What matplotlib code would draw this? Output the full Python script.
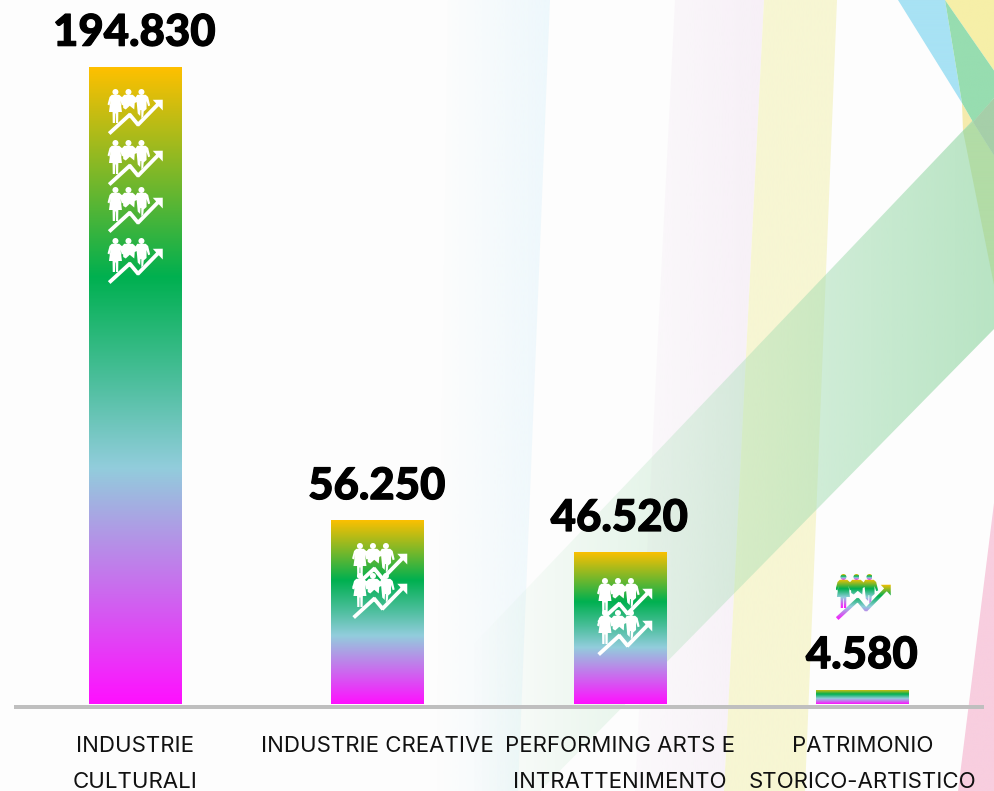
import numpy as np
import matplotlib
matplotlib.use("Agg")
import matplotlib.pyplot as plt
import matplotlib.patheffects as pe
from matplotlib.colors import LinearSegmentedColormap, to_rgb
from matplotlib.patches import PathPatch, Polygon
from matplotlib.path import Path
from matplotlib.ticker import NullLocator
from matplotlib.transforms import Affine2D

# Data
categories = ["INDUSTRIE\nCULTURALI", "INDUSTRIE CREATIVE",
              "PERFORMING ARTS E\nINTRATTENIMENTO", "PATRIMONIO\nSTORICO-ARTISTICO"]
values = [194830, 56250, 46520, 4580]
value_labels = ["194.830", "56.250", "46.520", "4.580"]

# Icon placement on the canvas: horizontal nudge from the bar centre and top edges
ICON_DX = [0, 2, 4.5, 0.5]
ICON_TOPS = [[89, 140, 187, 238], [543, 573], [578, 610], [574]]

W, H = 995, 791
plt.rcParams["font.family"] = ["Inter", "DejaVu Sans"]

rainbow = LinearSegmentedColormap.from_list(
    "rainbow_bar",
    [(0.0, "#FFC000"), (0.33, "#00B050"), (0.50, "#4FBF9F"),
     (0.63, "#92CDDC"), (1.0, "#FF10FF")],
)
ramp = np.linspace(0, 1, 256).reshape(-1, 1)

fig = plt.figure(figsize=(W / 100, H / 100), dpi=100, facecolor="#FDFDFD")


def px_axes(zorder):
    a = fig.add_axes([0, 0, 1, 1], zorder=zorder)
    a.set_xlim(0, W)
    a.set_ylim(H, 0)
    a.axis("off")
    a.patch.set_alpha(0)
    return a


# Backdrop of translucent colour bands
bg = px_axes(0)


def band(points, color, a0=1.0, a1=1.0, span=None):
    """Fill a polygon with a colour whose opacity ramps left to right."""
    xs = [p[0] for p in points]
    ys = [p[1] for p in points]
    x0, x1 = span if span else (min(xs), max(xs))
    rgba = np.zeros((1, 256, 4))
    rgba[..., :3] = to_rgb(color)
    rgba[..., 3] = np.linspace(a0, a1, 256)
    im = bg.imshow(rgba, extent=(x0, x1, max(ys), min(ys)), aspect="auto",
                   interpolation="bilinear")
    im.set_clip_path(Polygon(points, transform=bg.transData))


band([(448, 0), (550, 0), (518, 791), (436, 791)], "#EEF8FC", 0.0, 1.0)
band([(675, 0), (764, 0), (724, 791), (635, 791)], "#F7F0F7", 0.3, 1.0)
band([(764, 0), (837, 0), (805, 791), (724, 791)], "#F7F6D3")
band([(995, 495), (995, 791), (958, 791)], "#F8CEDF")
band([(945, 0), (995, 0), (995, 72)], "#F6EFA8")
band([(898, 0), (945, 0), (962, 103)], "#A8E2F4")
band([(962, 103), (973, 122), (963, 131)], "#F5EBAD")
band([(995, 97), (995, 328), (540, 791), (470, 791), (470, 648)], "#A5DDB3",
     0.0, 0.78, span=(470, 995))
band([(945, 0), (995, 72), (995, 97), (973, 122), (962, 103)], "#97DDB0")
band([(963, 131), (973, 122), (995, 157), (995, 290)], "#B2DCA6")
band([(973, 122), (995, 97), (995, 157)], "#A6CFA9")

# Bars on a value scale
ax = fig.add_axes([14 / W, (H - 704.5) / H, 970 / W, 704.5 / H], zorder=2)
ax.patch.set_alpha(0)
positions = np.arange(len(values))
bars = ax.bar(positions, values, width=0.383, color="none", edgecolor="none")
y_top = 704.5 / 637.5 * values[0]

for bar in bars:
    im = ax.imshow(ramp, cmap=rainbow, aspect="auto", zorder=2,
                   extent=(bar.get_x(), bar.get_x() + bar.get_width(), 0, bar.get_height()),
                   origin="upper")
    im.set_clip_path(bar)
ax.set_xlim(-0.5, 3.5)
ax.set_ylim(0, y_top)

for s in ("top", "left", "right"):
    ax.spines[s].set_visible(False)
spine = ax.spines["bottom"]
spine.set_position(("outward", 1.44))
spine.set_color("#BFBFBF")
spine.set_linewidth(2.88)
spine.set_capstyle("butt")

ax.yaxis.set_major_locator(NullLocator())
ax.set_xticks(positions)
ax.set_xticklabels(categories, fontsize=16, color="#111111", linespacing=2.0)
ax.tick_params(axis="x", length=0, pad=21)

for x, v, label in zip(positions, values, value_labels):
    ax.annotate(label, xy=(x, v), xytext=(-0.7, 15.3), textcoords="offset points",
                ha="center", va="baseline", fontsize=31.5, fontweight=900,
                family=["Lato", "DejaVu Sans"], color="black", zorder=5,
                path_effects=[pe.withStroke(linewidth=0.8, foreground="black")])


# Pictogram: three figures above a rising arrow
def ring(points):
    p = np.asarray(points, float)
    x, y = p[:, 0], p[:, 1]
    if np.sum(x * np.roll(y, -1) - np.roll(x, -1) * y) < 0:
        p = p[::-1]
    return Path(np.vstack([p, p[0]]), closed=True)


def stroke(a, b, half=1.9):
    a, b = np.asarray(a, float), np.asarray(b, float)
    d = (b - a) / np.hypot(*(b - a))
    n = np.array([-d[1], d[0]]) * half
    a2, b2 = a - d * 0.8, b + d * 0.8
    return ring([a2 + n, b2 + n, b2 - n, a2 - n])


HEADS = [Path.circle((cx, 3.0), 3.0) for cx in (7.7, 20.7, 33.7)]
BODIES = Path.make_compound_path(
    ring([(4, 5.8), (11.5, 5.8), (14, 8), (16, 15.5), (14, 16.5), (12.8, 11.5),
          (14.2, 23), (10.6, 23), (10.4, 34), (8.2, 34), (8, 24.5), (7.4, 24.5),
          (7.2, 34), (5, 34), (4.8, 23), (1.2, 23), (2.8, 11.5), (1.8, 16.5),
          (-0.2, 15.5), (1.8, 8)]),
    ring([(16.5, 5.8), (25, 5.8), (27.5, 8), (29, 13), (27, 14), (26.5, 20.5),
          (22, 16.8), (18, 20.5), (15.5, 19), (15.2, 14), (13.5, 9)]),
    ring([(29.5, 5.8), (38, 5.8), (40.4, 8), (42.4, 16.5), (40.4, 17.2), (38.8, 12),
          (38.8, 20), (36, 22.5), (35.5, 27.5), (33.6, 29.5), (33.5, 21), (32.8, 21),
          (32.4, 27), (30, 24.5), (28.8, 12), (27.5, 9)]),
)
ZIGZAG = [(2, 44), (22, 25.7), (30.3, 35.7), (50, 15.5)]
ARROW = Path.make_compound_path(
    *[stroke(a, b) for a, b in zip(ZIGZAG, ZIGZAG[1:])],
    ring([(45, 10.8), (55, 10.7), (55, 21.5)]),
)
ICON_PARTS = HEADS + [BODIES, ARROW]

top = px_axes(3)
for i, tops in enumerate(ICON_TOPS):
    cx = ax.transData.transform((positions[i], 0))[0] + ICON_DX[i]
    for y in tops:
        place = Affine2D().translate(cx - 27.5, y)
        for part in ICON_PARTS:
            shape = part.transformed(place)
            if i < 3:
                top.add_patch(PathPatch(shape, facecolor="white", edgecolor="none"))
            else:
                # The smallest bar's icon sits on the page, so it takes the bar gradient
                box = shape.get_extents()
                patch = PathPatch(shape, facecolor="none", edgecolor="none")
                top.add_patch(patch)
                im = top.imshow(ramp, cmap=rainbow, aspect="auto", origin="upper",
                                extent=(box.x0, box.x1, box.y1, box.y0))
                im.set_clip_path(patch)
top.set_xlim(0, W)
top.set_ylim(H, 0)

fig.savefig("out.png", dpi=100, facecolor=fig.get_facecolor())
